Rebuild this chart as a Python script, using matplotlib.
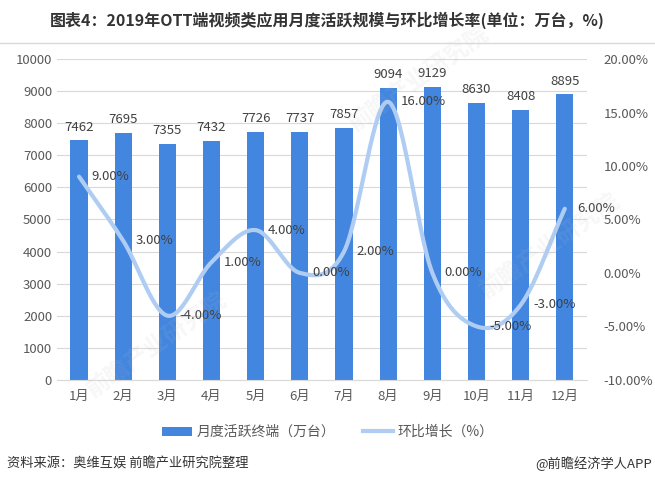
import numpy as np
import matplotlib
matplotlib.use("Agg")
import matplotlib.pyplot as plt
from matplotlib.patches import Patch
from matplotlib.lines import Line2D
from matplotlib.ticker import FuncFormatter

plt.rcParams['font.family'] = ['Noto Sans CJK SC', 'DejaVu Sans']

months = ["1月", "2月", "3月", "4月", "5月", "6月", "7月", "8月", "9月", "10月", "11月", "12月"]
active_units = [7462, 7695, 7355, 7432, 7726, 7737, 7857, 9094, 9129, 8630, 8408, 8895]
growth_pct = [9, 3, -4, 1, 4, 0, 2, 16, 0, -5, -3, 6]

BAR_COLOR = "#4286E0"
LINE_COLOR = "#AFCDF3"
TEXT_COLOR = "#404040"
TICK_COLOR = "#595959"
GRID_COLOR = "#D9D9D9"


def smooth_curve(x, y, steps=30):
    # Catmull-Rom spline, similar to Excel's smoothed line
    x = np.asarray(x, float)
    y = np.asarray(y, float)
    px = np.concatenate([[2 * x[0] - x[1]], x, [2 * x[-1] - x[-2]]])
    py = np.concatenate([[2 * y[0] - y[1]], y, [2 * y[-1] - y[-2]]])
    xs, ys = [], []
    t = np.linspace(0, 1, steps)
    for i in range(1, len(px) - 2):
        for arr, out in ((px, xs), (py, ys)):
            p0, p1, p2, p3 = arr[i - 1], arr[i], arr[i + 1], arr[i + 2]
            out.extend(0.5 * ((2 * p1) + (-p0 + p2) * t
                              + (2 * p0 - 5 * p1 + 4 * p2 - p3) * t ** 2
                              + (-p0 + 3 * p1 - 3 * p2 + p3) * t ** 3))
    return np.array(xs), np.array(ys)


fig = plt.figure(figsize=(6.55, 4.92), dpi=100)
ax = fig.add_axes([0.087, 0.228, 0.809, 0.652])
ax2 = ax.twinx()

x = np.arange(len(months))
ax.bar(x, active_units, width=0.39, color=BAR_COLOR, zorder=2)
for xi, v in zip(x, active_units):
    ax.annotate(str(v), (xi, v), xytext=(0, 5), textcoords="offset points",
                ha="center", va="bottom", fontsize=9.5, color=TEXT_COLOR)

ax.set_ylim(0, 10000)
ax.set_yticks(range(0, 10001, 1000))
ax.set_xlim(-0.5, len(months) - 0.5)
ax.set_xticks(x)
ax.set_xticklabels(months)
ax.grid(axis="y", color=GRID_COLOR, linewidth=0.8, zorder=0)
ax.set_axisbelow(True)
ax.tick_params(axis="both", length=0, labelsize=9.5, colors=TICK_COLOR)
ax.tick_params(axis="x", pad=7)
for s in ax.spines.values():
    s.set_visible(False)
ax.spines["bottom"].set_visible(True)
ax.spines["bottom"].set_color(GRID_COLOR)

sx, sy = smooth_curve(x, growth_pct)
ax2.plot(sx, sy, color=LINE_COLOR, linewidth=3, solid_capstyle="round", zorder=3)
for xi, v in zip(x, growth_pct):
    ax2.annotate(f"{v:.2f}%", (xi, v), xytext=(9, 0), textcoords="offset points",
                 ha="left", va="center", fontsize=9.5, color=TEXT_COLOR)
ax2.set_ylim(-10, 20)
ax2.set_yticks(range(-10, 21, 5))
ax2.yaxis.set_major_formatter(FuncFormatter(lambda v, p: f"{v:.2f}%"))
ax2.tick_params(axis="y", length=0, labelsize=9.5, colors=TICK_COLOR, pad=12)
for s in ax2.spines.values():
    s.set_visible(False)

# faint watermark
for wx, wy in [(0.24, 0.30), (0.64, 0.84), (0.84, 0.50)]:
    fig.text(wx, wy, "前瞻产业研究院", fontsize=17, fontweight="bold", color="#BBBBBB",
             alpha=0.12, rotation=35, ha="center", va="center", zorder=0)

fig.text(0.5, 0.958, "图表4：2019年OTT端视频类应用月度活跃规模与环比增长率(单位：万台，%)",
         ha="center", va="center", fontsize=11.5, fontweight="bold", color="#333333")
fig.add_artist(Line2D([0, 1], [1 - 43 / 492] * 2, color="#D9D9D9", linewidth=1))

handles = [Patch(facecolor=BAR_COLOR, edgecolor="none"),
           Line2D([], [], color=LINE_COLOR, linewidth=3)]
fig.legend(handles, ["月度活跃终端（万台）", "环比增长（%）"], loc="center",
           bbox_to_anchor=(0.50, 1 - 432 / 492), ncol=2, frameon=False, fontsize=10,
           handlelength=2.2, handleheight=0.6, columnspacing=2.0, handletextpad=0.3,
           labelcolor=TICK_COLOR)

fig.text(0.01, 1 - 464 / 492, "资料来源：奥维互娱 前瞻产业研究院整理", ha="left", va="center",
         fontsize=9.5, color="#333333")
fig.text(0.995, 1 - 464 / 492, "@前瞻经济学人APP", ha="right", va="center",
         fontsize=9.5, color="#333333")

fig.savefig("out.png", dpi=100)
